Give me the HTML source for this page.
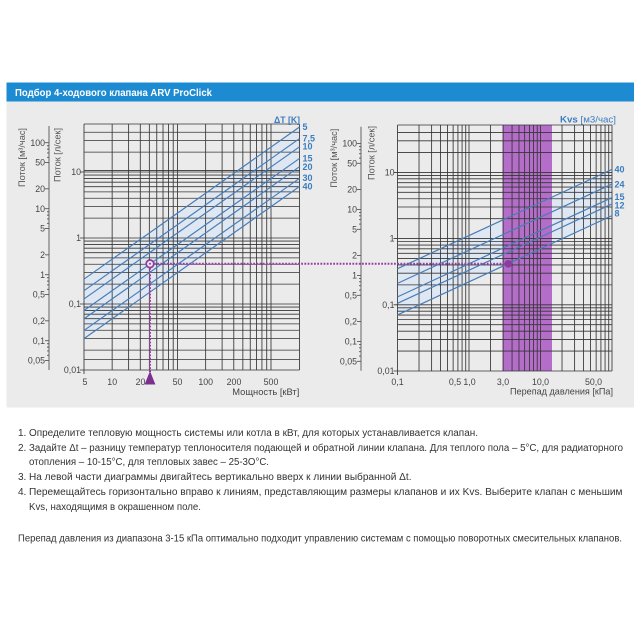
<!DOCTYPE html>
<html><head><meta charset="utf-8"><style>html,body{margin:0;padding:0;background:#fff}svg{display:block}</style></head>
<body>
<svg width="640" height="640" viewBox="0 0 640 640" xmlns="http://www.w3.org/2000/svg" font-family="'Liberation Sans', sans-serif">
<rect width="640" height="640" fill="#fff"/>
<rect x="6.5" y="82.5" width="627.5" height="19" fill="#1c8bd2"/>
<text x="15" y="95.8" fill="#fff" font-size="10.5" font-weight="bold" textLength="197" lengthAdjust="spacingAndGlyphs">Подбор 4-ходового клапана ARV ProClick</text>
<rect x="6.5" y="101.5" width="627.5" height="306" fill="#ebebeb"/>

<!-- LEFT CHART -->
<polygon points="84,279.07 299.5,126.95 299.5,186.55 84,338.67" fill="#dfe8f2"/>
<path fill="none" stroke="#353535" stroke-width="0.85" d="
M84 124V370 M112.15 124V370 M128.61 124V370 M140.29 124V370 M149.35 124V370 M156.76 124V370 M163.02 124V370 M168.44 124V370 M173.22 124V370 M177.5 124V370 M205.65 124V370 M222.11 124V370 M233.79 124V370 M242.85 124V370 M250.26 124V370 M256.52 124V370 M261.94 124V370 M266.72 124V370 M271 124V370 M299.5 124V370
M84 124H299.5 M84 132.26H299.5 M84 140.51H299.5 M84 152.13H299.5 M84 170.4H299.5 M84 172H299.5 M84 175.02H299.5 M84 178.4H299.5 M84 182.22H299.5 M84 186.64H299.5 M84 191.87H299.5 M84 198.26H299.5 M84 206.51H299.5 M84 218.13H299.5 M84 238H299.5 M84 241.02H299.5 M84 244.4H299.5 M84 248.22H299.5 M84 252.64H299.5 M84 257.87H299.5 M84 264.26H299.5 M84 272.51H299.5 M84 284.13H299.5 M84 304H299.5 M84 307.02H299.5 M84 310.4H299.5 M84 314.22H299.5 M84 318.64H299.5 M84 323.87H299.5 M84 330.26H299.5 M84 338.51H299.5 M84 350.13H299.5 M84 359.5H299.5 M84 370H299.5
M80 172H84 M80 238H84 M80 304H84 M80 370H84 M84 370V374"/>
<path fill="none" stroke="#4a7db6" stroke-width="1.2" d="
M84 279.07L299.5 126.95 M84 290.69L299.5 138.57 M84 298.93L299.5 146.81 M84 310.55L299.5 158.43 M84 318.8L299.5 166.68 M84 330.43L299.5 178.31 M84 338.67L299.5 186.55"/>

<!-- RIGHT CHART -->
<polygon points="397.5,268.67 612,169.37 612,215.64 397.5,314.94" fill="#dfe8f2"/>
<rect x="502.5" y="125" width="49.5" height="246" fill="#b56dca"/>
<path fill="none" stroke="#353535" stroke-width="0.85" d="
M397.5 125V371 M419.02 125V371 M431.61 125V371 M440.55 125V371 M447.48 125V371 M453.14 125V371 M457.92 125V371 M462.07 125V371 M465.73 125V371 M469 125V371 M490.52 125V371 M503.11 125V371 M512.05 125V371 M518.98 125V371 M524.64 125V371 M529.42 125V371 M533.57 125V371 M537.23 125V371 M540.5 125V371 M562.02 125V371 M574.61 125V371 M583.55 125V371 M590.48 125V371 M596.14 125V371 M600.92 125V371 M605.07 125V371 M608.73 125V371 M612 125V371
M397.5 125H612 M397.5 132.54H612 M397.5 140.81H612 M397.5 152.47H612 M397.5 172.4H612 M397.5 175.43H612 M397.5 178.82H612 M397.5 182.65H612 M397.5 187.09H612 M397.5 192.33H612 M397.5 198.74H612 M397.5 207.01H612 M397.5 218.67H612 M397.5 238.6H612 M397.5 241.63H612 M397.5 245.02H612 M397.5 248.85H612 M397.5 253.29H612 M397.5 258.53H612 M397.5 264.94H612 M397.5 273.21H612 M397.5 284.87H612 M397.5 304.8H612 M397.5 307.83H612 M397.5 311.22H612 M397.5 315.05H612 M397.5 319.49H612 M397.5 324.73H612 M397.5 331.14H612 M397.5 339.41H612 M397.5 351.07H612 M397.5 371H612
M393.5 172.4H397.5 M393.5 238.6H397.5 M393.5 304.8H397.5 M393.5 371H397.5 M397.5 371V375"/>
<path fill="none" stroke="#4a7db6" stroke-width="1.2" d="
M397.5 268.67L612 169.37 M397.5 283.36L612 184.06 M397.5 296.87L612 197.57 M397.5 303.28L612 203.98 M397.5 314.94L612 215.64"/>

<!-- m3/h axes (left, and shifted copy for right) -->
<g id="mh">
<path fill="none" stroke="#555" stroke-width="0.9" d="M49 126V370
M45 142.72H49 M45 162.59H49 M45 188.85H49 M45 208.72H49 M45 228.59H49 M45 254.85H49 M45 274.72H49 M45 294.59H49 M45 320.85H49 M45 340.72H49 M45 360.59H49
M47 157.36H49 M47 152.94H49 M47 149.12H49 M47 145.74H49
M47 223.36H49 M47 218.94H49 M47 215.12H49 M47 211.74H49
M47 289.36H49 M47 284.94H49 M47 281.12H49 M47 277.74H49
M47 355.36H49 M47 350.94H49 M47 347.12H49 M47 343.74H49"/>
<g fill="#444" font-size="8.8" text-anchor="end">
<text x="45" y="145.8">100</text>
<text x="45" y="165.7">50</text>
<text x="45" y="192">20</text>
<text x="45" y="211.8">10</text>
<text x="45" y="231.7">5</text>
<text x="45" y="258">2</text>
<text x="45" y="277.8">1</text>
<text x="45" y="297.7">0,5</text>
<text x="45" y="324">0,2</text>
<text x="45" y="343.8">0,1</text>
<text x="45" y="363.7">0,05</text>
</g>
<text transform="translate(24.8,187) rotate(-90)" fill="#555" font-size="9" textLength="59" lengthAdjust="spacingAndGlyphs">Поток [м³/час]</text>
</g>
<use href="#mh" transform="translate(312,0.7)"/>

<!-- l/s labels -->
<g fill="#444" font-size="8.8">
<text transform="translate(60.3,182) rotate(-90)" font-size="9" fill="#555" textLength="54" lengthAdjust="spacingAndGlyphs">Поток [л/сек]</text>
<text transform="translate(374.3,180) rotate(-90)" font-size="9" fill="#555" textLength="54" lengthAdjust="spacingAndGlyphs">Поток [л/сек]</text>
<g text-anchor="end">
<text x="81" y="175.1">10</text>
<text x="81" y="241.1">1</text>
<text x="81" y="307.1">0,1</text>
<text x="81" y="373.1">0,01</text>
<text x="394.5" y="175.5">10</text>
<text x="394.5" y="241.7">1</text>
<text x="394.5" y="307.9">0,1</text>
<text x="394.5" y="374.1">0,01</text>
</g>
<g text-anchor="middle">
<text x="85" y="384.8">5</text>
<text x="112.2" y="384.8">10</text>
<text x="140.5" y="384.8">20</text>
<text x="177.5" y="384.8">50</text>
<text x="205.7" y="384.8">100</text>
<text x="234" y="384.8">200</text>
<text x="271" y="384.8">500</text>
<text x="397.5" y="384.8">0,1</text>
<text x="455" y="384.8">0,5</text>
<text x="469.5" y="384.8">1,0</text>
<text x="503" y="384.8">3,0</text>
<text x="540.5" y="384.8">10,0</text>
<text x="593.5" y="384.8">50,0</text>
</g>
<text x="232.3" y="395.2" font-size="9.3" textLength="67" lengthAdjust="spacingAndGlyphs">Мощность [кВт]</text>
<text x="510" y="394.7" font-size="9.3" textLength="103" lengthAdjust="spacingAndGlyphs">Перепад давления [кПа]</text>
</g>

<!-- series labels -->
<g fill="#3a7dc1" font-size="9" font-weight="bold">
<text x="274" y="122.8" textLength="26" lengthAdjust="spacingAndGlyphs">ΔT [K]</text>
<text x="302.5" y="130">5</text>
<text x="302.5" y="141.6">7,5</text>
<text x="302.5" y="149.3">10</text>
<text x="302.5" y="161.6">15</text>
<text x="302.5" y="170">20</text>
<text x="302.5" y="181">30</text>
<text x="302.5" y="189.3">40</text>
<text x="614.5" y="172.3">40</text>
<text x="614.5" y="187.3">24</text>
<text x="614.5" y="200">15</text>
<text x="614.5" y="208.3">12</text>
<text x="614.5" y="216.6">8</text>
<text x="560" y="122.6" textLength="56" lengthAdjust="spacingAndGlyphs">Kvs <tspan font-weight="normal">[м3/час]</tspan></text>
</g>

<!-- selection path -->
<path fill="none" stroke="#9a3ea8" stroke-width="2" stroke-dasharray="1.8 1.4" d="M154 263.8H508.3 M150 268V372"/>
<circle cx="150" cy="263.8" r="3.8" fill="#efe3f1" stroke="#8a3d9c" stroke-width="1.7"/>
<circle cx="150" cy="263.8" r="1" fill="#8a3d9c"/>
<circle cx="508.3" cy="263.8" r="3.8" fill="#8a3d9c"/>
<polygon points="150,371 144.6,384.5 155.4,384.5" fill="#7b2f8f"/>

<!-- body text -->
<g fill="#333" font-size="10">
<text x="18" y="436">1.</text>
<text x="29" y="436" textLength="449" lengthAdjust="spacingAndGlyphs">Определите тепловую мощность системы или котла в кВт, для которых устанавливается клапан.</text>
<text x="18" y="451">2.</text>
<text x="29" y="451" textLength="594" lengthAdjust="spacingAndGlyphs">Задайте Δt – разницу температур теплоносителя подающей и обратной линии клапана. Для теплого пола – 5°C, для радиаторного</text>
<text x="29" y="465" textLength="240" lengthAdjust="spacingAndGlyphs">отопления – 10-15°C, для тепловых завес – 25-3O°C.</text>
<text x="18" y="480">3.</text>
<text x="29" y="480" textLength="382.5" lengthAdjust="spacingAndGlyphs">На левой части диаграммы двигайтесь вертикально вверх к линии выбранной Δt.</text>
<text x="18" y="495">4.</text>
<text x="29" y="495" textLength="593.5" lengthAdjust="spacingAndGlyphs">Перемещайтесь горизонтально вправо к линиям, представляющим размеры клапанов и их Kvs. Выберите клапан с меньшим</text>
<text x="29" y="510" textLength="172" lengthAdjust="spacingAndGlyphs">Kvs, находящимя в окрашенном поле.</text>
<text x="18" y="541.5" textLength="604" lengthAdjust="spacingAndGlyphs">Перепад давления из диапазона 3-15 кПа оптимально подходит управлению системам с помощью поворотных смесительных клапанов.</text>
</g>
</svg>
</body></html>
